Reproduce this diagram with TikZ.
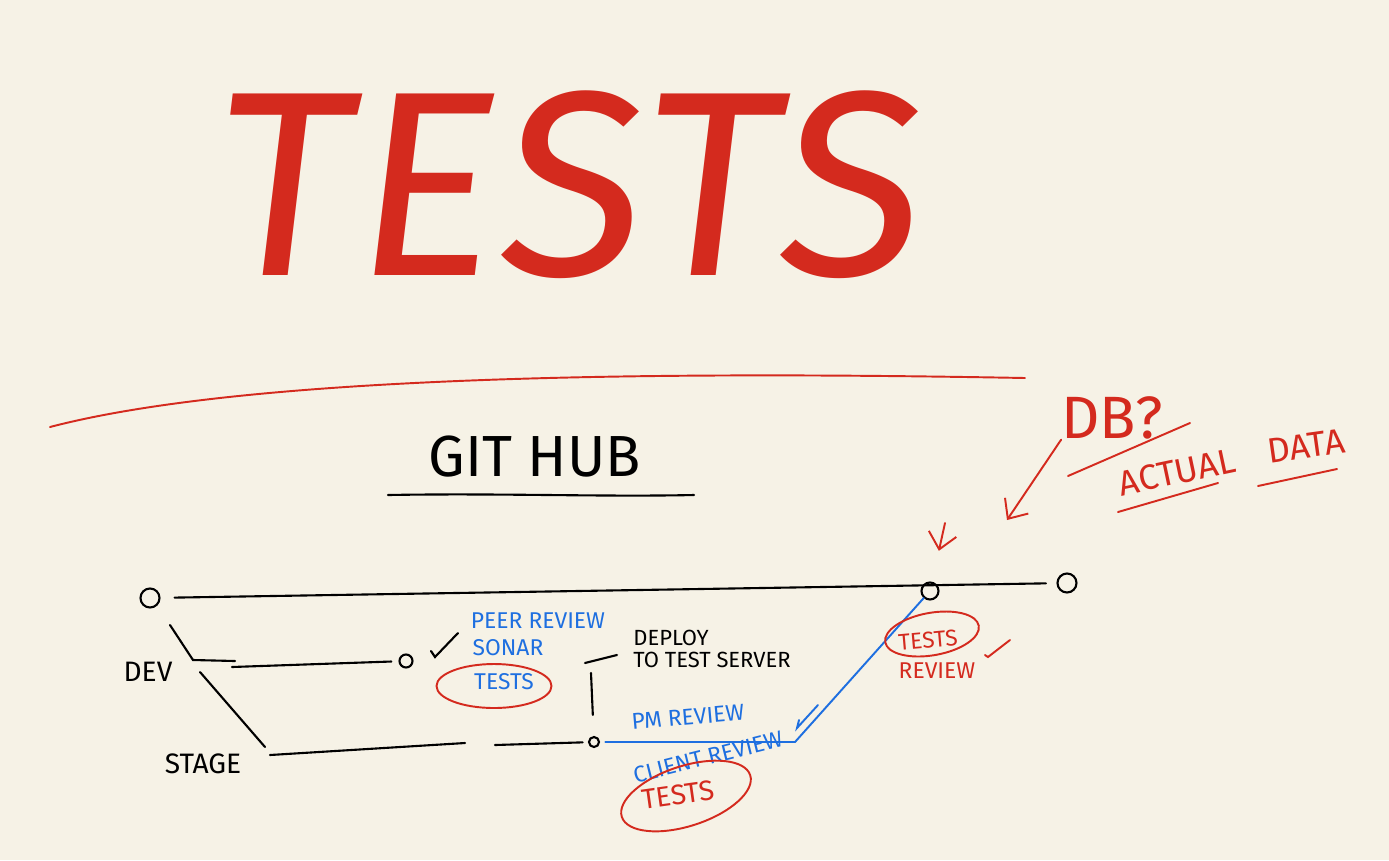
\documentclass[tikz,border=0pt]{standalone}
\usepackage{fontspec}
\setmainfont{Fira Sans}
\usetikzlibrary{arrows.meta,shapes.geometric}
\definecolor{paper}{HTML}{F6F2E6}
\definecolor{penred}{HTML}{D42A1E}
\definecolor{penblue}{HTML}{1E6FE0}
\begin{document}
\begin{tikzpicture}[x=0.02cm, y=-0.02cm,
  branch/.style={line width=1.2pt, line cap=round},
  commit/.style={circle, draw, line width=1.2pt, inner sep=0pt, minimum size=#1},
  commit/.default=0.38cm,
  note/.style={inner sep=0pt, font=\fontsize{#1}{#1}\selectfont},
  note/.default=15,
  rednote/.style={note=#1, text=penred},
  bluenote/.style={note=#1, text=penblue},
  redline/.style={penred, line width=1.1pt, line cap=round},
  blueline/.style={penblue, line width=1.1pt, line cap=round},
  ring/.style={ellipse, draw=penred, line width=1.1pt, inner sep=0pt},
  redarrow/.style={redline, -{Straight Barb[length=9pt, width=16pt]}}
]
\fill[paper] (0,0) rectangle (1389,860);

% title
\node[text=penred, font=\fontsize{150}{150}\selectfont\addfontfeatures{LetterSpace=2}, xslant=0.12, inner sep=0pt] (title) at (572,185) {TESTS};
\draw[redline] (50,427) .. controls (260,372) and (700,372) .. (1025,378);

% github
\node[note=33] (github) at (535,457) {GIT HUB};
\draw[branch] (388,495) .. controls (500,493) and (600,497) .. (694,495);

% commits
\node[commit] (m1) at (150,598) {};
\node[commit=0.34cm] (m2) at (930,591) {};
\node[commit] (m3) at (1067,583) {};
\node[commit=0.26cm] (d1) at (406,661) {};
\node[commit=0.2cm] (s1) at (594,742) {};

% main line
\draw[branch, shorten <=8pt, shorten >=6pt] (m1) -- (m3);

% dev branch
\node[note=16] (dev) at (148,672) {DEV};
\coordinate (devfork) at (170,625);
\coordinate (devcorner) at (193,660);
\coordinate (devend) at (235,661);
\coordinate (devstart) at (232,667);
\draw[branch] (devfork) -- (devcorner) -- (devend);
\draw[branch, shorten >=4pt] (devstart) -- (d1);
\draw[branch] (431,651) -- (435,657) -- (458,633);

% stage branch
\node[note=16] (stage) at (203,764) {STAGE};
\coordinate (stagefork) at (200,672);
\coordinate (stagecorner) at (265,747);
\coordinate (stagea) at (270,755);
\coordinate (stageb) at (465,743);
\coordinate (stagec) at (495,745);
\draw[branch] (stagefork) -- (stagecorner);
\draw[branch] (stagea) -- (stageb);
\draw[branch, shorten >=3pt] (stagec) -- (s1);
\coordinate (deploytop) at (591,673);
\draw[branch, shorten <=12pt] (s1) -- (deploytop);
\coordinate (deploya) at (585,663);
\coordinate (deployb) at (617,655);
\draw[branch] (deploya) -- (deployb);

% dev notes
\node[bluenote=13] (peer) at (538,621) {PEER REVIEW};
\node[bluenote=13] (sonar) at (508,648) {SONAR};
\node[bluenote=13] (devtests) at (504,682) {TESTS};
\node[ring, minimum width=2.3cm, minimum height=0.88cm] (devring) at (494,686) {};
\node[note=12.5, align=left, anchor=west] (deploy) at (633,649) {DEPLOY\\TO TEST SERVER};

% stage notes
\coordinate (bend) at (795,742);
\draw[blueline, shorten <=3pt] (s1) -- (bend) -- (m2);
\draw[blueline] (818,705) -- (797,728) -- (799,720);
\node[bluenote=13, rotate=5] (pm) at (688,717) {PM REVIEW};
\node[bluenote=13, rotate=14] (client) at (708,757) {CLIENT REVIEW};
\node[rednote=16, rotate=8] (stagetests) at (678,795) {TESTS};
\node[ring, rotate=18, minimum width=2.7cm, minimum height=1.2cm] (stagering) at (686,796) {};

% main notes
\node[rednote=13, rotate=5] (maintests) at (928,640) {TESTS};
\node[ring, rotate=10, minimum width=1.9cm, minimum height=0.85cm] (mainring) at (932,634) {};
\node[rednote=13] (review) at (937,671) {REVIEW};
\draw[redline] (985,655) -- (988,657) -- (1010,640);

% data
\coordinate (marka) at (945,523);
\draw[redarrow, shorten >=18pt] (marka) -- (m2);
\node[rednote=34] (db) at (1112,418) {DB?};
\coordinate (dbtip) at (1007,520);
\draw[redarrow] (db.south west) -- (dbtip);
\node[rednote=20, rotate=12] (actual) at (1177,472) {ACTUAL};
\node[rednote=20, rotate=8] (data) at (1306,446) {DATA};
\draw[redline] (1068,476) -- (1190,423);
\draw[redline] (1118,512) -- (1218,483);
\draw[redline] (1258,486) -- (1337,469);
\end{tikzpicture}
\end{document}
